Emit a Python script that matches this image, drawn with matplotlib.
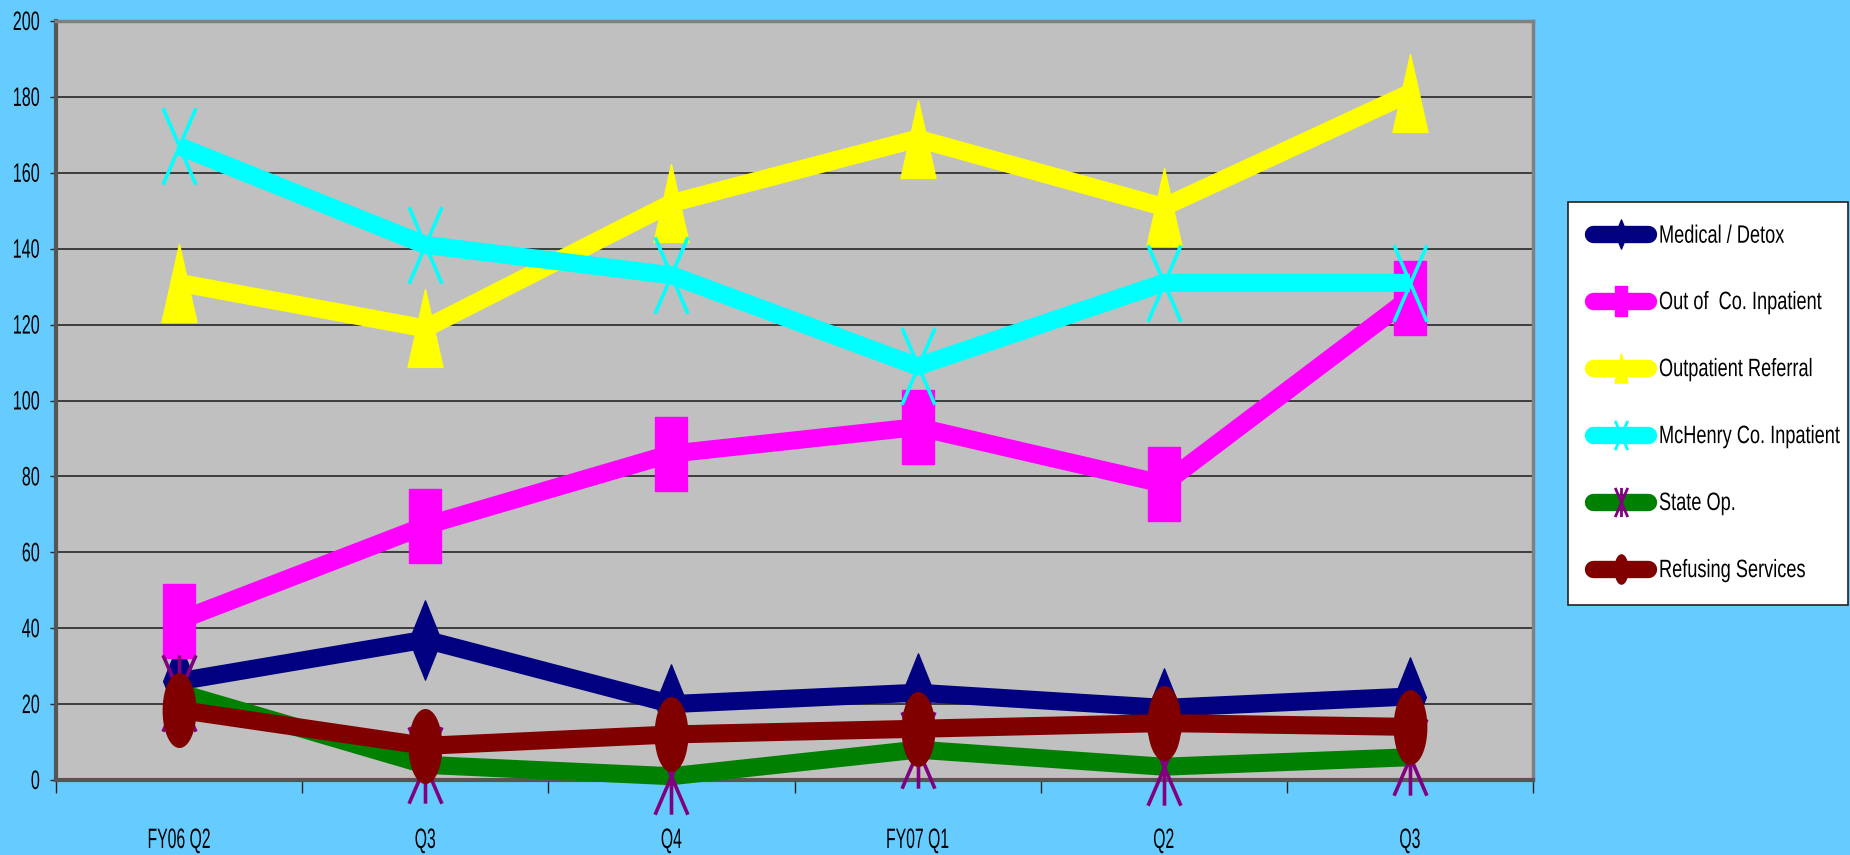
import numpy as np
import matplotlib
matplotlib.use("Agg")
import matplotlib.pyplot as plt
from matplotlib.path import Path
from matplotlib.lines import Line2D
from matplotlib.ticker import FixedLocator
from matplotlib.patheffects import AbstractPathEffect
from matplotlib.transforms import Affine2D

# ---------------- data ----------------
categories = ["FY06 Q2", "Q3", "Q4", "FY07 Q1", "Q2", "Q3"]
series_names = ["Medical / Detox", "Out of  Co. Inpatient", "Outpatient Referral",
                "McHenry Co. Inpatient", "State Op.", "Refusing Services"]
medical_detox = [26, 37, 20, 23, 19, 22]
out_of_co_inpatient = [42, 67, 86, 93, 78, 127]
outpatient_referral = [131, 119, 152, 169, 151, 181]
mchenry_inpatient = [167, 141, 133, 109, 131, 131]
state_op = [23, 4, 1, 8, 3.5, 6]
refusing_services = [18.5, 9, 12, 13.5, 15, 14]
y_ticks = [0, 20, 40, 60, 80, 100, 120, 140, 160, 180, 200]


# text rendered tall & narrow like the original (still real Text artists)
class Reshape(AbstractPathEffect):
    def __init__(self, sx=1.0, sy=1.0, anchor_x=0.5):
        super().__init__()
        self.sx, self.sy, self.ax_ = sx, sy, anchor_x

    def draw_path(self, renderer, gc, tpath, affine, rgbFace=None):
        ext = tpath.get_extents(affine)
        cx = ext.x0 + self.ax_ * ext.width
        cy = ext.y0 + 0.5 * ext.height
        new = affine + Affine2D().translate(-cx, -cy).scale(self.sx, self.sy).translate(cx, cy)
        renderer.draw_path(gc, tpath, new, rgbFace)


# ---------------- markers ----------------
def diamond(r=0.40):
    return Path([(0, 1), (r, 0), (0, -1), (-r, 0), (0, 1)], closed=True)

def rect(r=0.44):
    return Path([(-r, -1), (r, -1), (r, 1), (-r, 1), (-r, -1)], closed=True)

def triangle(r=0.45):
    return Path([(0, 1), (r, -1), (-r, -1), (0, 1)], closed=True)

def ellipse(r=0.44):
    t = np.linspace(0, 2 * np.pi, 60)
    return Path(np.column_stack([r * np.cos(t), np.sin(t)]), closed=True)

def xmark(r=0.43):
    return Path([(-r, -1), (r, 1), (-r, 1), (r, -1)],
                [Path.MOVETO, Path.LINETO, Path.MOVETO, Path.LINETO])

def starmark(r=0.43):
    return Path([(-r, -1), (r, 1), (-r, 1), (r, -1), (0, 1), (0, -1)],
                [Path.MOVETO, Path.LINETO, Path.MOVETO, Path.LINETO,
                 Path.MOVETO, Path.LINETO])

styles = [
    dict(color="#000080", marker=diamond(), ms=57, mfc="#000080", mec="#000080", mew=1),
    dict(color="#FF00FF", marker=rect(), ms=53, mfc="#FF00FF", mec="#FF00FF", mew=1),
    dict(color="#FFFF00", marker=triangle(), ms=56, mfc="#FFFF00", mec="#FFFF00", mew=1),
    dict(color="#00FFFF", marker=xmark(), ms=55, mfc="none", mec="#00FFFF", mew=2.6),
    dict(color="#008000", marker=starmark(), ms=55, mfc="none", mec="#800080", mew=2.6),
    dict(color="#800000", marker=ellipse(), ms=53, mfc="#800000", mec="#800000", mew=1),
]
all_series = [medical_detox, out_of_co_inpatient, outpatient_referral,
              mchenry_inpatient, state_op, refusing_services]

FONT = ["Liberation Sans", "DejaVu Sans"]

# ---------------- figure ----------------
W, H = 1850, 855
fig = plt.figure(figsize=(W / 100, H / 100), dpi=100)
fig.patch.set_facecolor("#66CCFF")
ax = fig.add_axes([56 / W, 1 - 780 / H, (1533 - 56) / W, (780 - 21) / H])
ax.set_facecolor("#C0C0C0")

x = np.arange(len(categories))
for i, (vals, st) in enumerate(zip(all_series, styles)):
    ax.plot(x, vals, color=st["color"], lw=13, marker=st["marker"], ms=st["ms"],
            mfc=st["mfc"], mec=st["mec"], mew=st["mew"], clip_on=False,
            solid_joinstyle="round", solid_capstyle="butt", zorder=3 + i)

ax.set_xlim(-0.5, len(categories) - 0.5)
ax.set_ylim(0, 200)
ax.set_yticks(y_ticks)
ax.yaxis.grid(True, color="#1a1a1a", lw=1.1)
ax.set_axisbelow(True)

ax.set_xticks(x)
ax.set_xticklabels(categories)
ax.xaxis.set_minor_locator(FixedLocator(np.arange(-0.5, len(categories), 1.0)))
ax.tick_params(axis="x", which="major", length=0, pad=38)
ax.tick_params(axis="x", which="minor", length=9, width=1, color="#222222", direction="out")
ax.tick_params(axis="y", which="major", length=4.5, width=1, color="#222222", direction="out", pad=7)

for lab in ax.get_xticklabels():
    lab.set_fontfamily(FONT)
    lab.set_fontsize(14)
    lab.set_path_effects([Reshape(sx=0.81, sy=1.44, anchor_x=0.5)])
for lab in ax.get_yticklabels():
    lab.set_fontfamily(FONT)
    lab.set_fontsize(14)
    lab.set_path_effects([Reshape(sx=0.83, sy=1.37, anchor_x=1.0)])

for side in ["top", "right"]:
    ax.spines[side].set_color("#808080")
    ax.spines[side].set_linewidth(2.5)
for side in ["left", "bottom"]:
    ax.spines[side].set_color("#555555")
    ax.spines[side].set_linewidth(3)

# ---------------- legend ----------------
handles = []
for st in styles:
    handles.append(Line2D([0], [0], color=st["color"], lw=12.5, marker=st["marker"],
                          ms=21, mfc=st["mfc"], mec=st["mec"], mew=min(st["mew"], 2.0),
                          solid_capstyle="round"))
leg = fig.legend(handles, series_names, loc="upper left",
                 bbox_to_anchor=(1568 / W, 1 - 202 / H - 0.01, (1848 - 1568) / W, 0.01),
                 mode="expand", frameon=True, fancybox=False, borderaxespad=0,
                 framealpha=1.0,
                 prop={"family": FONT, "size": 13.5},
                 handlelength=2.9, handletextpad=0.6, labelspacing=2.66, borderpad=1.35)
leg.get_frame().set_facecolor("white")
leg.get_frame().set_edgecolor("#222222")
leg.get_frame().set_linewidth(1.2)
for t in leg.get_texts():
    t.set_path_effects([Reshape(sx=0.97, sy=1.34, anchor_x=0.0)])

fig.savefig("out.png", dpi=100, facecolor=fig.get_facecolor())
